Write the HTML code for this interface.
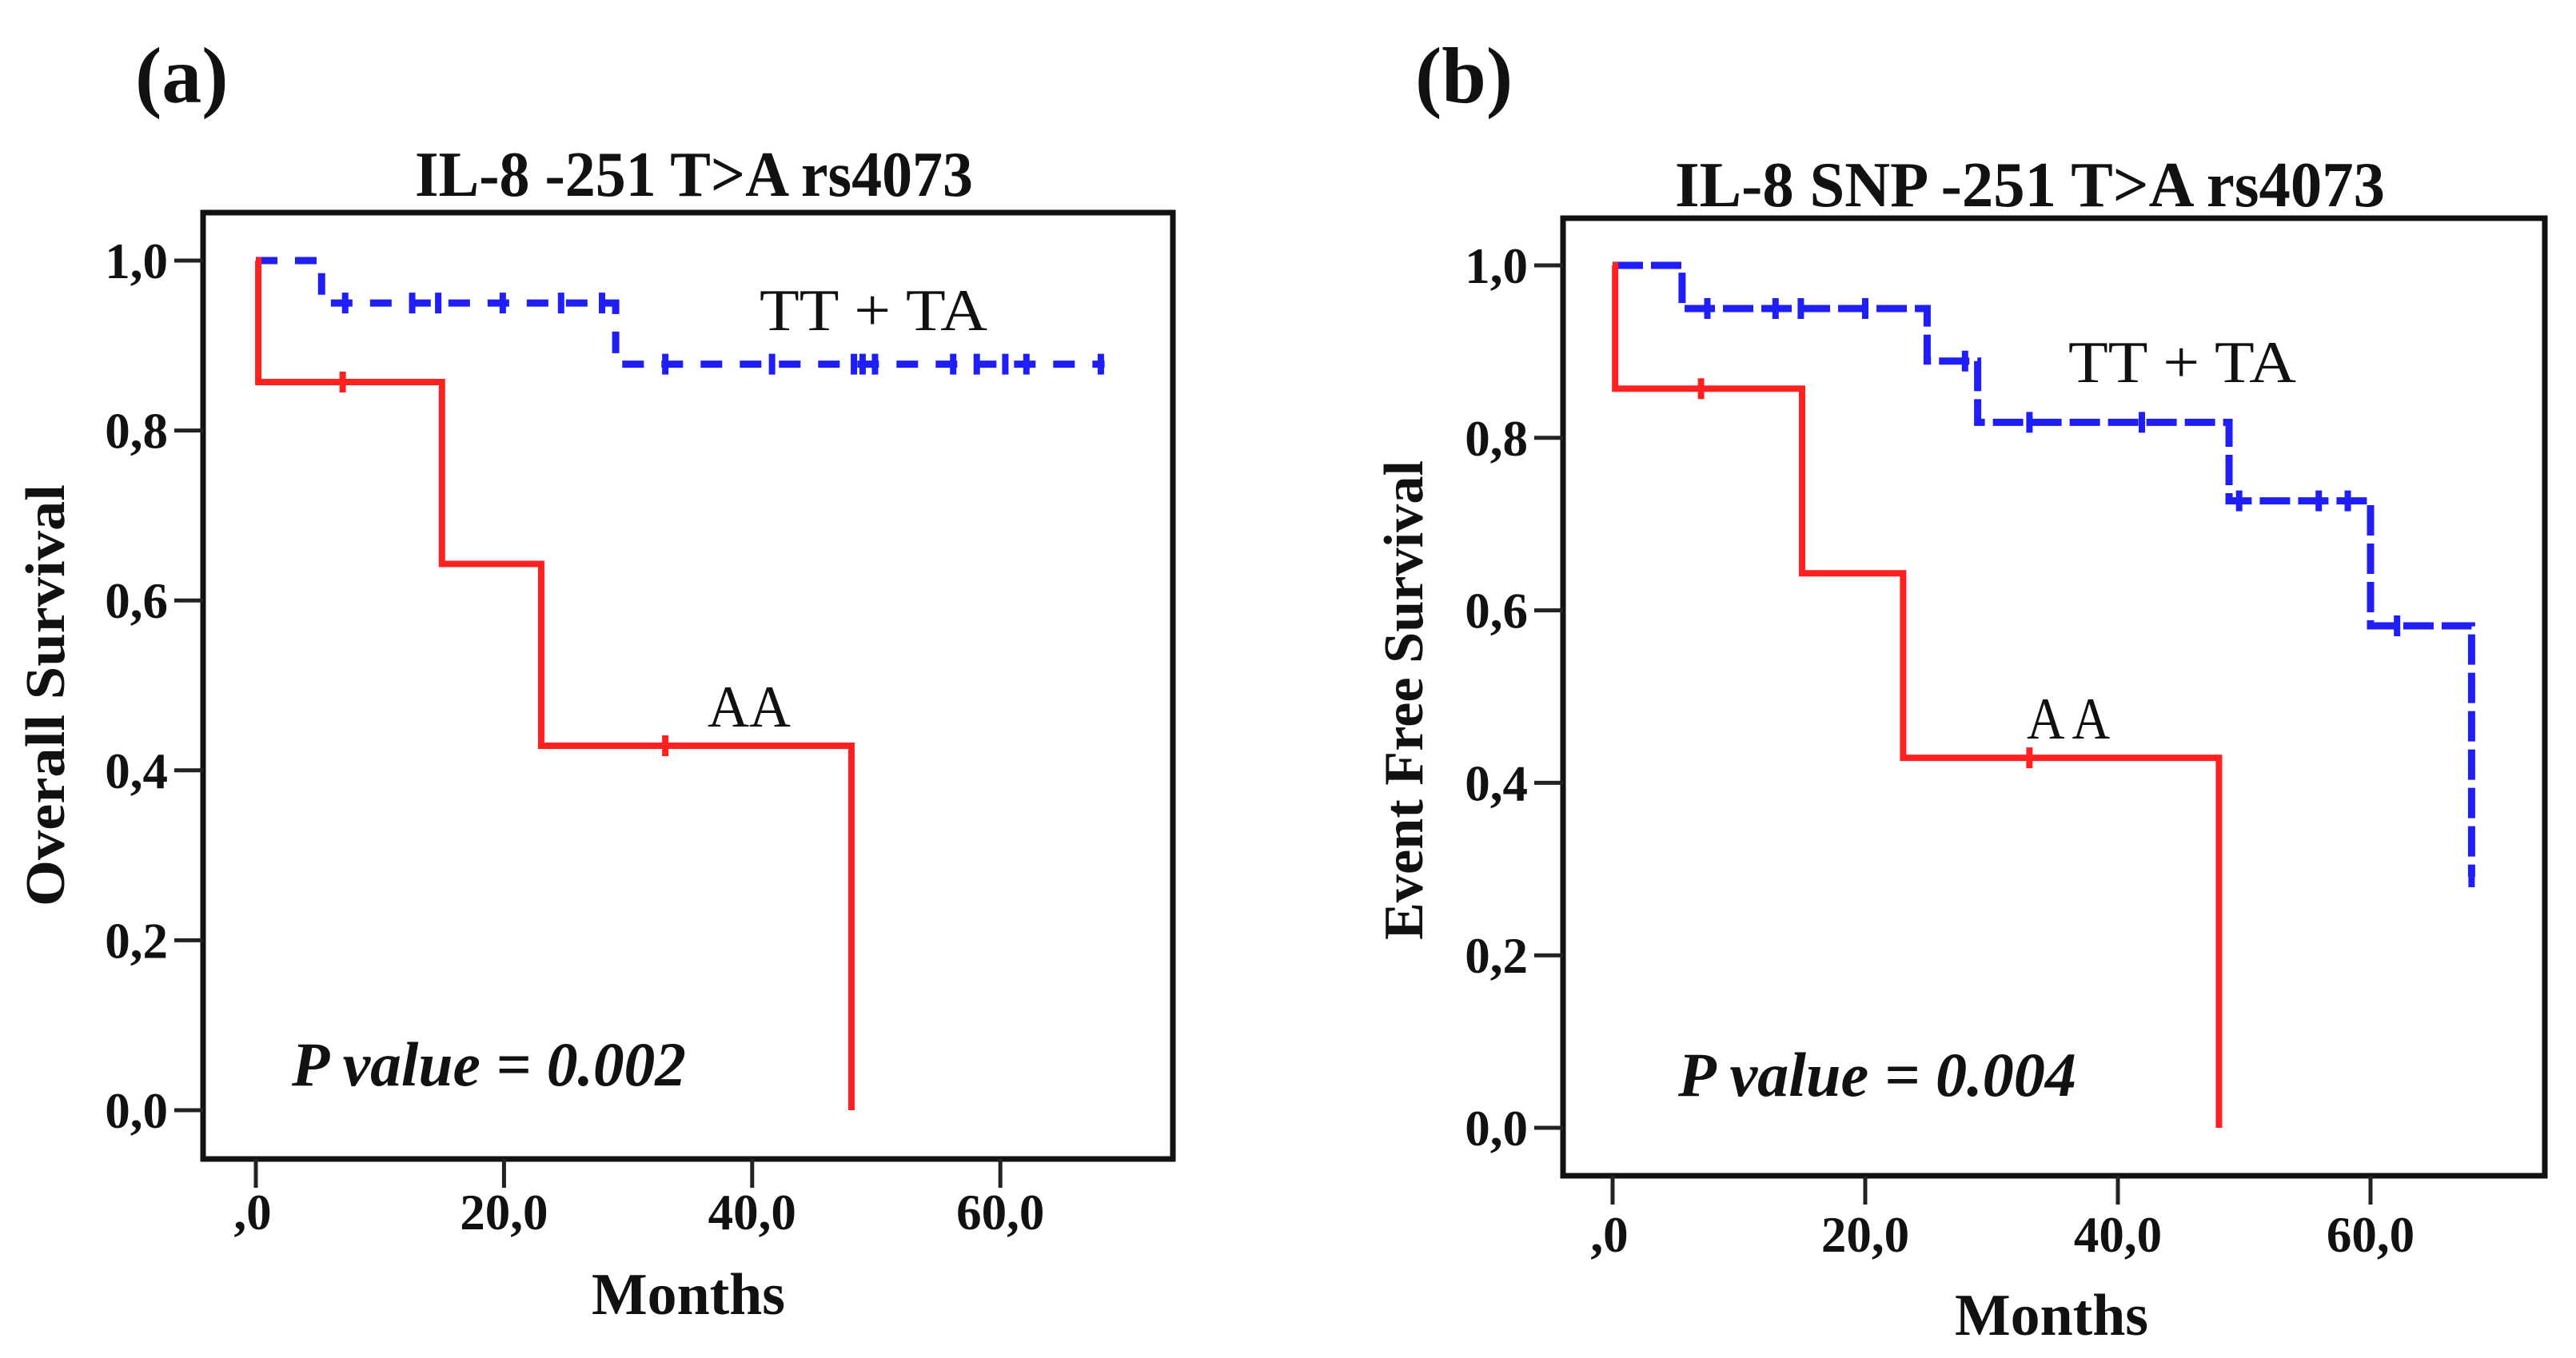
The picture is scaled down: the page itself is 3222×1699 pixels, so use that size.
<!DOCTYPE html>
<html><head><meta charset="utf-8"><style>
html,body{margin:0;padding:0;background:#fff;}
svg{display:block;}
text{font-family:"Liberation Serif",serif;fill:#111;}
</style></head><body>
<svg id="chart" width="3222" height="1699" viewBox="0 0 3222 1699" xmlns="http://www.w3.org/2000/svg"></svg>
<script>
// ---- Panel (a) data: Overall Survival ----
const aRedEventT = [0.2, 15, 23, 48];
const aRedEventS = [0.857, 0.643, 0.429, 0];
const aRedEndT = 48;
const aRedCensT = [7, 33];
const aBlueEventT = [5.3, 29];
const aBlueEventS = [0.95, 0.878];
const aBlueEndT = 68.4;
const aBlueCensT = [7.2, 12.6, 14.7, 19.9, 24.6, 27.9, 33, 41.6, 48.2, 48.9, 49.9, 56.2, 58.1, 60.4, 62.1, 68.1];
// ---- Panel (b) data: Event Free Survival ----
const bRedEventT = [0.2, 15, 23, 48];
const bRedEventS = [0.857, 0.643, 0.429, 0];
const bRedEndT = 48;
const bRedCensT = [7, 33];
const bBlueEventT = [5.5, 24.9, 28.9, 48.8, 60, 68];
const bBlueEventS = [0.95, 0.889, 0.818, 0.727, 0.582, 0.291];
const bBlueEndT = 68;
const bBlueCensT = [7.5, 12.9, 14.9, 20, 27.9, 33, 41.9, 49.6, 55.9, 58.2, 62.1, 68];
const yTicks = [0, 0.2, 0.4, 0.6, 0.8, 1.0];
const yTickLabels = ["0,0", "0,2", "0,4", "0,6", "0,8", "1,0"];
const xTicks = [0, 20, 40, 60];
const xTickLabels = [",0", "20,0", "40,0", "60,0"];

const NS = "http://www.w3.org/2000/svg";
const svg = document.getElementById("chart");
function mk(tag, attrs, parent) {
  const e = document.createElementNS(NS, tag);
  for (const k in attrs) e.setAttribute(k, attrs[k]);
  (parent || svg).appendChild(e);
  return e;
}
function txt(parent, s, attrs) { const t = mk("text", attrs, parent); t.textContent = s; return t; }

function panel(cfg) {
  const g = mk("g", {});
  
  
  const X = m => cfg.x0 + m * cfg.pxPerMonth;
  const Y = s => cfg.y0 - s * cfg.pxPerUnit;
  // frame
  const fr = mk("rect", {x: cfg.fl, y: cfg.ft, width: cfg.fr - cfg.fl, height: cfg.fb - cfg.ft, fill: "none", stroke: "#111", "stroke-width": 7}, g);
  
  
  // y ticks
  yTicks.forEach((v, i) => {
    const tk = mk("line", {x1: cfg.fl - 36, x2: cfg.fl, y1: Y(v), y2: Y(v), stroke: "#222", "stroke-width": 5}, g);
    
    
    const lb = txt(g, yTickLabels[i], {x: cfg.fl - 44, y: Y(v) + 22, "text-anchor": "end", "font-size": 63, "font-weight": "bold"});
    
    
  });
  xTicks.forEach((v, i) => {
    const tk = mk("line", {x1: X(v), x2: X(v), y1: cfg.fb, y2: cfg.fb + 36, stroke: "#222", "stroke-width": 5}, g);
    
    
    const lb = txt(g, xTickLabels[i], {x: X(v) - (i === 0 ? 4 : 0), y: cfg.xlabY, "text-anchor": "middle", "font-size": 63, "font-weight": "bold"});
    
    
  });
  // series
  function series(evT, evS, endT, censT, color, width, dash, nm) {
    let d = "M" + X(0) + "," + Y(1);
    let s = 1;
    evT.forEach((t, i) => { d += " H" + X(t) + " V" + Y(evS[i]); s = evS[i]; });
    if (endT > evT[evT.length - 1]) d += " H" + X(endT);
    const attrs = {d: d, fill: "none", stroke: color, "stroke-width": width, "stroke-linejoin": "miter"};
    if (dash) attrs["stroke-dasharray"] = dash;
    const p = mk("path", attrs, g);
    
    
    censT.forEach(t => {
      let lvl = 1;
      evT.forEach((et, i) => { if (et <= t) lvl = evS[i]; });
      const c = mk("line", {x1: X(t), x2: X(t), y1: Y(lvl) - 13, y2: Y(lvl) + 13, stroke: color, "stroke-width": 8}, g);
      
      
    });
  }
  series(cfg.blueT, cfg.blueS, cfg.blueEnd, cfg.blueC, "#1f1ff5", 9, cfg.dash, "tt-ta");
  series(cfg.redT, cfg.redS, cfg.redEnd, cfg.redC, "#ff2020", 8, null, "aa");
  // texts
  const pl = txt(g, cfg.letter, {x: cfg.letterX, y: 128, "font-size": 100, "font-weight": "bold"});
  
  
  const tt = txt(g, cfg.title, {x: cfg.titleX, y: cfg.titleY, "font-size": 80, "font-weight": "bold", textLength: cfg.titleW, lengthAdjust: "spacingAndGlyphs"});
  
  
  const yt = txt(g, cfg.ytitle, {x: 0, y: 0, "font-size": 70, "font-weight": "bold", "text-anchor": "middle", textLength: cfg.ytW, lengthAdjust: "spacingAndGlyphs", transform: "translate(" + cfg.ytX + "," + cfg.ytY + ") rotate(-90)"});
  
  
  const xt = txt(g, "Months", {x: cfg.mX, y: cfg.mY, "font-size": 74, "font-weight": "bold", "text-anchor": "middle", textLength: 242, lengthAdjust: "spacingAndGlyphs"});
  
  
  const l1 = txt(g, "TT + TA", {x: cfg.ttX, y: cfg.ttY, "font-size": 74, textLength: 285, lengthAdjust: "spacingAndGlyphs"});
  
  
  const l2 = txt(g, cfg.aaText, {x: cfg.aaX, y: cfg.aaY, "font-size": 74, textLength: 104, lengthAdjust: "spacingAndGlyphs"});
  
  
  const pv = txt(g, cfg.pText, {x: cfg.pX, y: cfg.pY, "font-size": 78, "font-weight": "bold", "font-style": "italic", textLength: cfg.pW, lengthAdjust: "spacingAndGlyphs"});
  
  
}

panel({name: "panel-a-overall-survival", fl: 254, fr: 1467, ft: 266, fb: 1450, x0: 320, pxPerMonth: 15.52, y0: 1389, pxPerUnit: 1063,
  redT: aRedEventT, redS: aRedEventS, redEnd: aRedEndT, redC: aRedCensT,
  blueT: aBlueEventT, blueS: aBlueEventS, blueEnd: aBlueEndT, blueC: aBlueCensT, dash: "27 22",
  letter: "(a)", letterX: 169, title: "IL-8 -251 T>A rs4073", titleX: 519, titleY: 245, titleW: 698,
  ytitle: "Overall Survival", ytX: 80, ytY: 870, ytW: 528, mX: 861, mY: 1644, xlabY: 1538,
  ttX: 950, ttY: 413, aaText: "AA", aaX: 885, aaY: 909, pText: "P value = 0.002", pX: 365, pY: 1358, pW: 493});

panel({name: "panel-b-event-free-survival", fl: 1955, fr: 3183, ft: 273, fb: 1471, x0: 2017, pxPerMonth: 15.8, y0: 1411, pxPerUnit: 1079,
  redT: bRedEventT, redS: bRedEventS, redEnd: bRedEndT, redC: bRedCensT,
  blueT: bBlueEventT, blueS: bBlueEventS, blueEnd: bBlueEndT, blueC: bBlueCensT, dash: "38 10",
  letter: "(b)", letterX: 1770, title: "IL-8 SNP -251 T>A rs4073", titleX: 2095, titleY: 258, titleW: 888,
  ytitle: "Event Free Survival", ytX: 1779, ytY: 876, ytW: 600, mX: 2566, mY: 1670, xlabY: 1566,
  ttX: 2587, ttY: 478, aaText: "A A", aaX: 2535, aaY: 924, pText: "P value = 0.004", pX: 2099, pY: 1371, pW: 498});
</script>
</body></html>
